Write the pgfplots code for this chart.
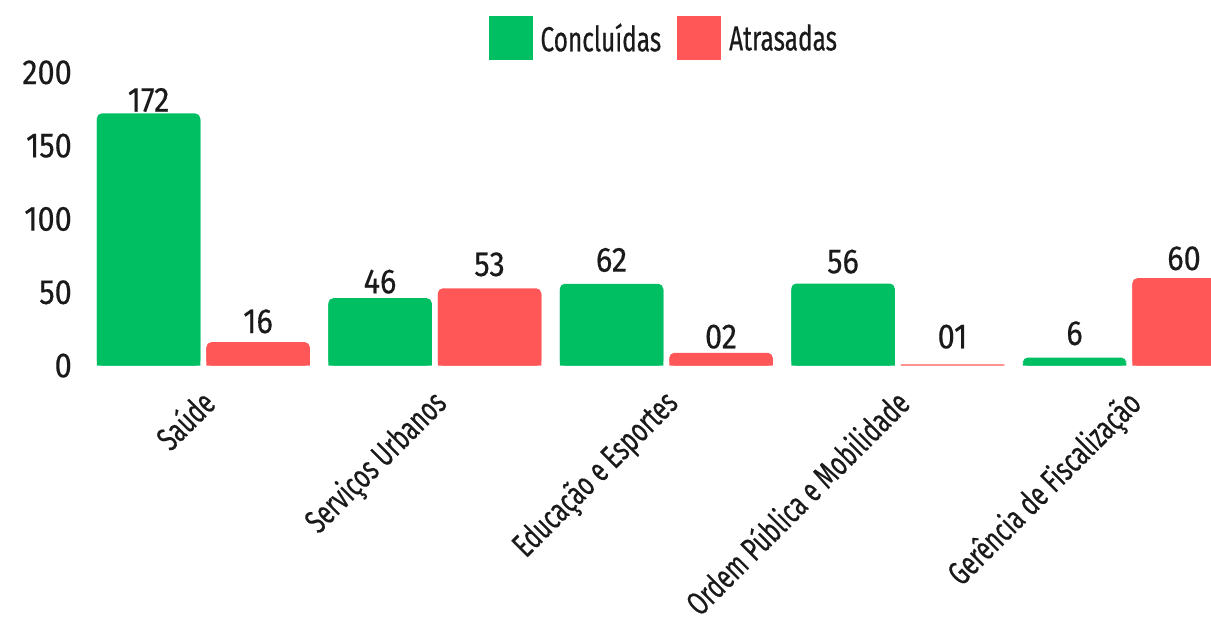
\documentclass[border=0pt]{standalone}
\usepackage{fontspec}
\setmainfont{Fira Sans}[FakeStretch=0.70, FakeBold=0.4]
\newfontfamily\numfam{Fira Sans}[FakeStretch=0.88, FakeBold=0.4]
\usepackage{pgfplots}
\pgfplotsset{compat=1.18}
\definecolor{cgreen}{HTML}{00BF63}
\definecolor{cred}{HTML}{FF5757}
\definecolor{ctext}{HTML}{1A1A1A}
\newcommand{\bigf}{\fontsize{35}{40}\selectfont}
\newcommand{\catf}{\fontsize{33.5}{40}\selectfont}
\newcommand{\numf}{\numfam\fontsize{35}{40}\selectfont}
\begin{document}
\begin{tikzpicture}
\path[use as bounding box] (-85bp,-259.4bp) rectangle (1126bp,365.6bp);
\begin{axis}[
  at={(0,0)}, anchor=south west,
  scale only axis, width=1126bp, height=293.2bp,
  xmin=-0.511, xmax=4.353, ymin=0, ymax=200,
  clip=true,
  axis line style={draw=none}, major tick style={draw=none},
  xtick={0,1,2,3,4},
  xticklabels={Saúde,Serviços Urbanos,Educação e Esportes,Ordem Pública e Mobilidade,Gerência de Fiscalização},
  xticklabel style={xshift=-5bp, yshift=-21bp, rotate=45, anchor=north east, inner sep=0pt, font=\catf},
  ytick={0,50,100,150,200},
  yticklabel style={anchor=east, inner sep=0pt, xshift=-13bp, font=\numf},
  /pgf/number format/assume math mode=true,
  tick label style={text=ctext},
  legend style={at={(0.514,1.117)}, anchor=center, draw=none, fill=none,
    font=\bigf, text=ctext, legend columns=2,
    /tikz/every odd column/.append style={column sep=6bp},
    /tikz/every even column/.append style={column sep=14bp}},
]
\addplot[ybar, bar width=103.5bp, bar shift=-54.75bp, fill=cgreen, draw=none, rounded corners=5bp,
  legend image code/.code={\fill[cgreen, sharp corners] (0bp,-22bp) rectangle (44bp,22bp);}]
  coordinates {(0,172) (1,46) (2,55.8) (3,56) (4,5.5)};
\addplot[ybar, bar width=103.5bp, bar shift=54.75bp, fill=cred, draw=none, rounded corners=5bp,
  legend image code/.code={\fill[cred, sharp corners] (0bp,-22bp) rectangle (44bp,22bp);}]
  coordinates {(0,16) (1,52.7) (2,8.7) (4,59.6)};
% square lower parts of the bars (only the tops are rounded)
\addplot[forget plot, ybar, bar width=103.5bp, bar shift=-54.75bp, fill=cgreen, draw=none]
  coordinates {(0,168) (1,42) (2,51.8) (3,52) (4,2)};
\addplot[forget plot, ybar, bar width=103.5bp, bar shift=54.75bp, fill=cred, draw=none]
  coordinates {(0,12) (1,48.7) (2,4.7) (3,0.8) (4,55.6)};
% value labels (baseline positions)
\addplot[forget plot, draw=none, mark=none,
  nodes near coords, point meta=explicit symbolic,
  every node near coord/.append style={anchor=base, inner sep=0pt, font=\numf, text=ctext}]
  coordinates {(-0.2365,173.2)[172] (0.7635,49.3)[46] (1.7635,64.1)[62] (2.7635,63.0)[56] (3.7635,14.1)[6]};
\addplot[forget plot, draw=none, mark=none,
  nodes near coords, point meta=explicit symbolic,
  every node near coord/.append style={anchor=base, inner sep=0pt, font=\numf, text=ctext}]
  coordinates {(0.2365,22.2)[16] (1.2365,61.1)[53] (2.2365,11.8)[02] (3.2365,11.8)[01] (4.2365,65.2)[60]};
\legend{Concluídas, Atrasadas}
\end{axis}
\end{tikzpicture}
\end{document}
